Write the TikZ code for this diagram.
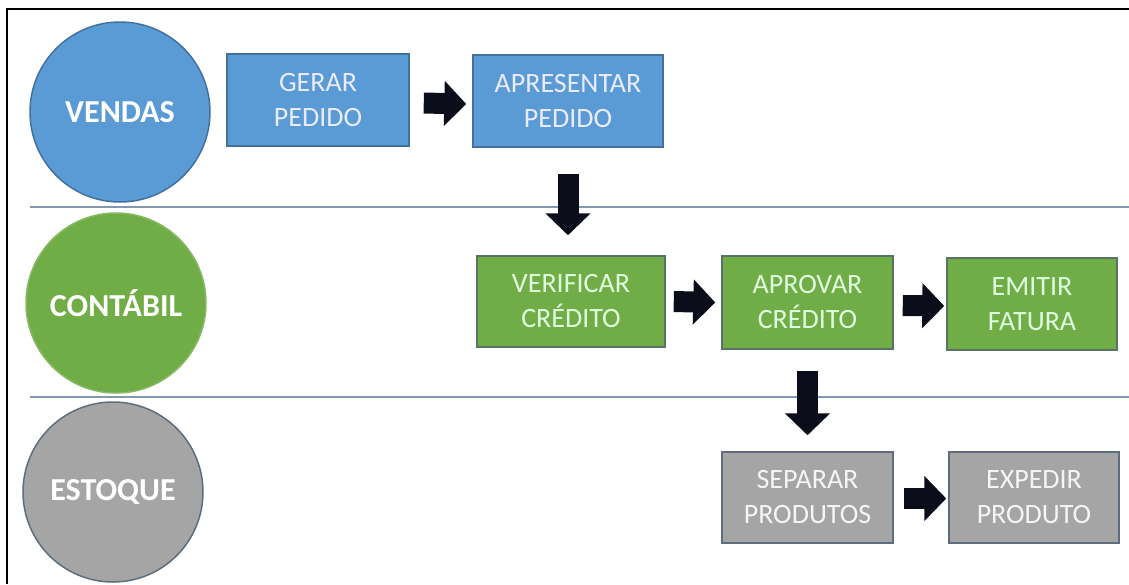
\documentclass[tikz,border=0pt]{standalone}
\usepackage{fontspec}
\setmainfont{Carlito}
\usetikzlibrary{arrows.meta,calc}
\definecolor{vblue}{HTML}{5B9BD5}
\definecolor{vblueb}{HTML}{41719C}
\definecolor{cgreen}{HTML}{70AD47}
\definecolor{cgreenb}{HTML}{507E32}
\definecolor{egray}{HTML}{A5A5A5}
\definecolor{egrayb}{HTML}{5D6D7E}
\definecolor{sepcol}{HTML}{8497B0}
\definecolor{arrcol}{HTML}{0B0D1A}
\tikzset{
  lanecircle/.style={circle, minimum size=180pt, inner sep=0pt, line width=1.5pt,
    text=white, font=\fontsize{32}{38}\selectfont\bfseries},
  stepbox/.style={rectangle, inner sep=0pt, line width=1.5pt, align=center,
    font=\fontsize{28}{35}\selectfont},
  bluebox/.style={stepbox, fill=vblue, draw=vblueb, text=blue!8!white},
  greenbox/.style={stepbox, fill=cgreen, draw=egrayb!70!cgreenb, text=green!12!white},
  graybox/.style={stepbox, fill=egray, draw=egrayb, text=white!96!black},
  blockarrow/.style={draw=arrcol, line width=21pt, line cap=butt,
    -{Triangle[length=22pt,width=44pt]}},
  sepline/.style={draw=sepcol, line width=1.3pt}
}
\begin{document}
\begin{tikzpicture}[x=1pt,y=-1pt]
\useasboundingbox (0,0) rectangle (1129,584);
% frame
\draw[line width=2pt] (1129,9) -- (7,9) -- (7,584);
% lane separators
\coordinate (s1a) at (30,207);
\coordinate (s1b) at (1129,207);
\coordinate (s2a) at (30,397);
\coordinate (s2b) at (1129,397);
\draw[sepline] (s1a) -- (s1b);
\draw[sepline] (s2a) -- (s2b);
% lane circles
\node[lanecircle, fill=vblue, draw=vblueb] (vendas) at (120,112) {VENDAS};
\node[lanecircle, fill=cgreen, draw=cgreen!85!white] (contabil) at (116,303) {CONT\'ABIL};
\node[lanecircle, fill=egray, draw=egrayb] (estoque) at (113,492) {ESTOQUE};
% step boxes
\node[bluebox, minimum width=182pt, minimum height=92pt] (ger) at (318,100) {GERAR\\PEDIDO};
\node[bluebox, minimum width=190pt, minimum height=92pt] (apr) at (568,101) {APRESENTAR\\PEDIDO};
\node[greenbox, minimum width=188pt, minimum height=91pt] (ver) at (571,301.5) {VERIFICAR\\CR\'EDITO};
\node[greenbox, minimum width=171pt, minimum height=93pt] (aprov) at (807.5,302.5) {APROVAR\\CR\'EDITO};
\node[greenbox, minimum width=170pt, minimum height=92pt] (emi) at (1032,304) {EMITIR\\FATURA};
\node[graybox, minimum width=171pt, minimum height=91pt] (sep) at (807.5,497.5) {SEPARAR\\PRODUTOS};
\node[graybox, minimum width=170pt, minimum height=91pt] (exp) at (1034,497.5) {EXPEDIR\\PRODUTO};
% block arrows
\draw[blockarrow] ([xshift=14pt,yshift=-3pt]ger.east) -- ([xshift=-6pt,yshift=-3pt]apr.west);
\draw[blockarrow] ([xshift=8pt]ver.east) -- ([xshift=-6pt]aprov.west);
\draw[blockarrow] ([xshift=9pt,yshift=-3pt]aprov.east) -- ([xshift=-2pt,yshift=-2pt]emi.west);
\draw[blockarrow] ([xshift=10pt,yshift=-1pt]sep.east) -- ([xshift=-2pt,yshift=-1pt]exp.west);
\draw[blockarrow] ([yshift=-26pt]apr.south) -- ([yshift=20pt]apr.south |- ver.north);
\draw[blockarrow] ([yshift=-21pt]aprov.south) -- ([yshift=16pt]sep.north);
\end{tikzpicture}
\end{document}
